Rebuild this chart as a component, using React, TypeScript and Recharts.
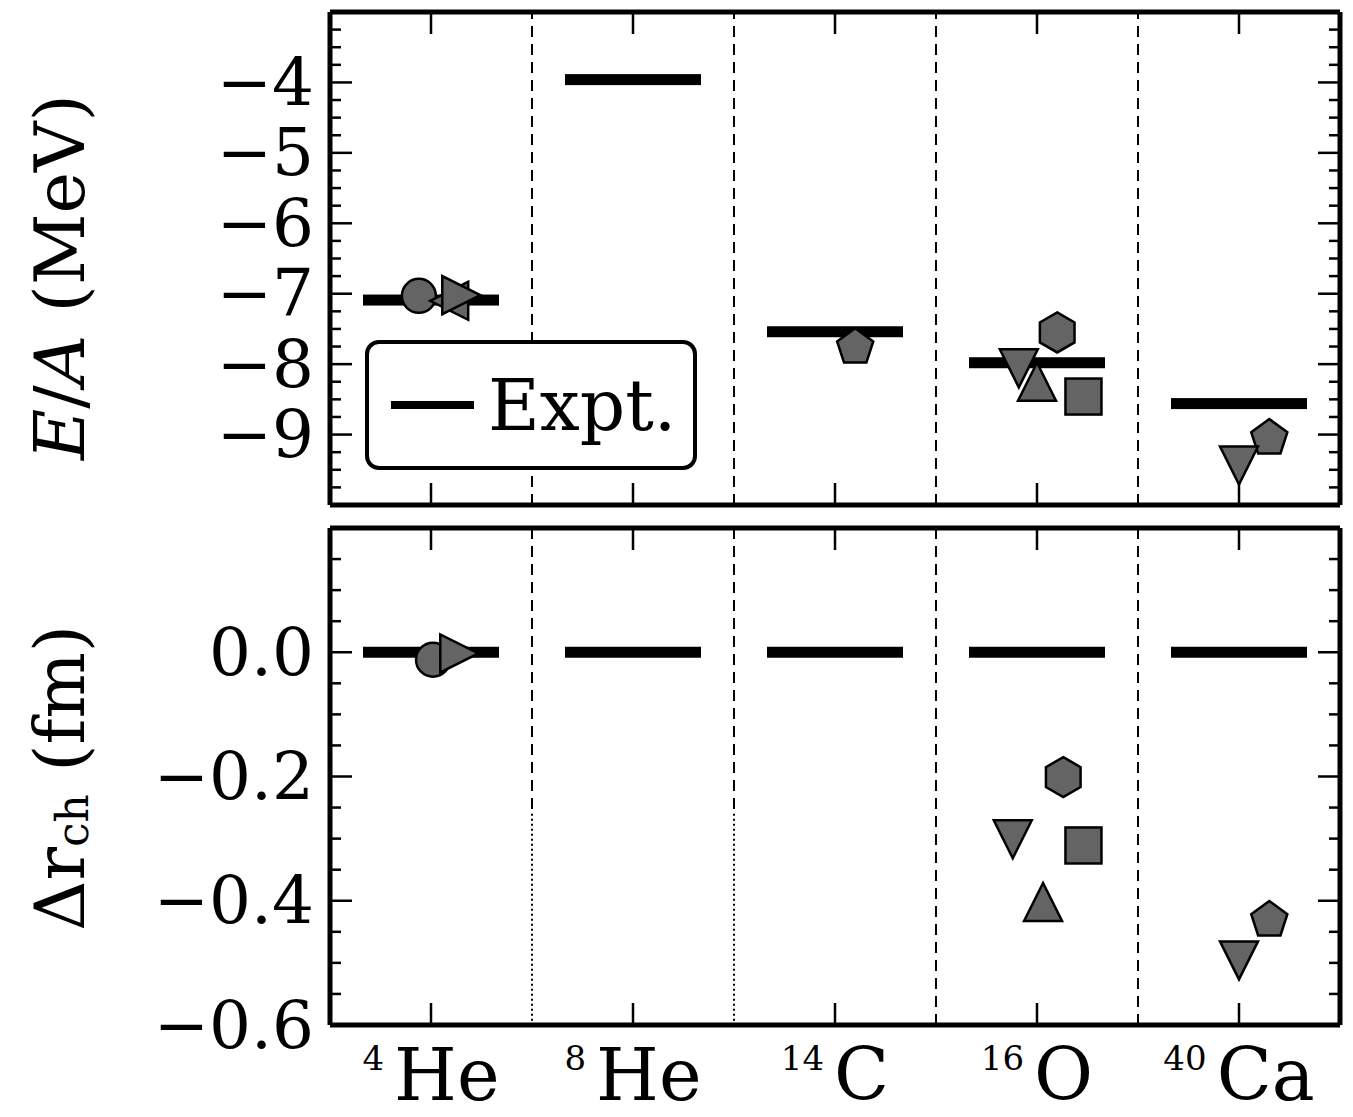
import React from 'react'
import {
  ComposedChart,
  Scatter,
  XAxis,
  YAxis,
  ReferenceLine,
  Legend,
} from 'recharts'

// nuclei along the x axis (positions 1..5)
const nucleusIndex = [1, 2, 3, 4, 5]
const nucleusMass = ['4', '8', '14', '16', '40']
const nucleusSymbol = ['He', 'He', 'C', 'O', 'Ca']

// experimental values
const exptEnergy = [-7.09, -3.96, -7.54, -7.98, -8.56]
const exptRadius = [0, 0, 0, 0, 0]

// calculated E/A (MeV), one list per marker
const energyCircle = [{ x: 0.94, y: -7.03 }]
const energyTriLeft = [{ x: 1.09, y: -7.1 }]
const energyTriRight = [{ x: 1.15, y: -7.02 }]
const energyPentagon = [{ x: 3.1, y: -7.76 }, { x: 5.15, y: -9.05 }]
const energyHexagon = [{ x: 4.1, y: -7.55 }]
const energyTriDown = [{ x: 3.91, y: -8.06 }, { x: 5.0, y: -9.44 }]
const energyTriUp = [{ x: 4.0, y: -8.25 }]
const energySquare = [{ x: 4.23, y: -8.46 }]

// calculated charge radius differences (fm)
const radiusCircle = [{ x: 1.01, y: -0.012 }]
const radiusTriRight = [{ x: 1.14, y: -0.002 }]
const radiusHexagon = [{ x: 4.13, y: -0.201 }]
const radiusTriDown = [{ x: 3.88, y: -0.301 }, { x: 5.0, y: -0.496 }]
const radiusSquare = [{ x: 4.23, y: -0.311 }]
const radiusTriUp = [{ x: 4.03, y: -0.402 }]
const radiusPentagon = [{ x: 5.15, y: -0.431 }]

// tick labels
const energyMajorTicks = [-9, -8, -7, -6, -5, -4]
const energyTickLabels = ['\u22129', '\u22128', '\u22127', '\u22126', '\u22125', '\u22124']
const radiusMajorTicks = [-0.6, -0.4, -0.2, 0]
const radiusTickLabels = ['\u22120.6', '\u22120.4', '\u22120.2', '0.0']

const range = (from: number, to: number, step: number) => {
  const out: number[] = []
  for (let v = from; v <= to + 1e-9; v += step) out.push(Math.round(v * 1000) / 1000)
  return out
}
const energyAllTicks = range(-10, -3, 0.25)
const radiusAllTicks = range(-0.6, 0.2, 0.05)

const FONT = 'DejaVu Serif'
const FILL = '#646464'
const X_DOMAIN = [0.5, 5.5]
const separators = nucleusIndex.slice(0, -1).map((v) => v + 0.5)

const exptEnergyData = nucleusIndex.map((x, i) => ({ x, y: exptEnergy[i] }))
const exptRadiusData = nucleusIndex.map((x, i) => ({ x, y: exptRadius[i] }))

const polygon = (cx: number, cy: number, r: number, n: number) => {
  const pts: string[] = []
  for (let k = 0; k < n; k++) {
    const a = -Math.PI / 2 + (2 * Math.PI * k) / n
    pts.push(`${cx + r * Math.cos(a)},${cy + r * Math.sin(a)}`)
  }
  return pts.join(' ')
}

const marker = (kind: string) => (p: any) => {
  const { cx, cy } = p
  const common = { fill: FILL, stroke: '#000', strokeWidth: 2.5, strokeLinejoin: 'miter' as const }
  const r = 19
  switch (kind) {
    case 'circle':
      return <circle cx={cx} cy={cy} r={17} {...common} />
    case 'square':
      return <rect x={cx - 18} y={cy - 18} width={36} height={36} {...common} />
    case 'triUp':
      return <polygon points={`${cx},${cy - r} ${cx - r},${cy + r} ${cx + r},${cy + r}`} {...common} />
    case 'triDown':
      return <polygon points={`${cx},${cy + r} ${cx - r},${cy - r} ${cx + r},${cy - r}`} {...common} />
    case 'triLeft':
      return <polygon points={`${cx - r},${cy} ${cx + r},${cy - r} ${cx + r},${cy + r}`} {...common} />
    case 'triRight':
      return <polygon points={`${cx + r},${cy} ${cx - r},${cy - r} ${cx - r},${cy + r}`} {...common} />
    case 'hexagon':
      return <polygon points={polygon(cx, cy, 20, 6)} {...common} />
    case 'pentagon':
      return <polygon points={polygon(cx, cy, 19, 5)} {...common} />
    default:
      return <g />
  }
}

const exptBar = (p: any) => (
  <rect x={p.cx - 68} y={p.cy - 5.5} width={136} height={11} fill="#000" />
)

const isMajor = (majors: number[], v: number) => majors.findIndex((m) => Math.abs(m - v) < 1e-6)

const makeLeftTick = (majors: number[], labels: string[]) => (p: any) => {
  const idx = isMajor(majors, p.payload.value)
  if (idx < 0) {
    return <line x1={p.x} x2={p.x + 11} y1={p.y} y2={p.y} stroke="#000" strokeWidth={2.5} />
  }
  return (
    <g>
      <line x1={p.x} x2={p.x + 22} y1={p.y} y2={p.y} stroke="#000" strokeWidth={2.5} />
      <text x={p.x - 16} y={p.y} textAnchor="end" dominantBaseline="central" fontFamily={FONT} fontSize={66} fill="#000">
        {labels[idx]}
      </text>
    </g>
  )
}

const makeRightTick = (majors: number[]) => (p: any) => {
  const len = isMajor(majors, p.payload.value) < 0 ? 11 : 22
  return <line x1={p.x} x2={p.x - len} y1={p.y} y2={p.y} stroke="#000" strokeWidth={2.5} />
}

const topTick = (p: any) => (
  <line x1={p.x} x2={p.x} y1={p.y} y2={p.y + 22} stroke="#000" strokeWidth={2.5} />
)

const bottomTick = (withLabel: boolean) => (p: any) => {
  const i = nucleusIndex.indexOf(p.payload.value)
  return (
    <g>
      <line x1={p.x} x2={p.x} y1={p.y} y2={p.y - 22} stroke="#000" strokeWidth={2.5} />
      {withLabel && i >= 0 && (
        <text x={p.x} y={p.y + 75} textAnchor="middle" fontFamily={FONT} fill="#000">
          <tspan fontSize={34} dy={-30}>{nucleusMass[i]}</tspan>
          <tspan fontSize={72} dy={30} dx={10}>{nucleusSymbol[i]}</tspan>
        </text>
      )}
    </g>
  )
}

const frame = { stroke: '#000', strokeWidth: 5 }

const LegendBox = () => (
  <div
    style={{
      width: 332,
      height: 130,
      boxSizing: 'border-box',
      border: '4px solid #000',
      borderRadius: 14,
      background: '#fff',
      display: 'flex',
      alignItems: 'center',
      paddingLeft: 22,
    }}
  >
    <div style={{ width: 83, height: 8, background: '#000' }} />
    <span style={{ fontFamily: FONT, fontSize: 71, marginLeft: 14, color: '#000', lineHeight: 1 }}>Expt.</span>
  </div>
)

export default function App() {
  return (
    <div style={{ position: 'absolute', left: 0, top: 0, width: 1353, height: 1117, background: '#fff' }}>
      <div style={{ position: 'absolute', left: 0, top: 0 }}>
        <ComposedChart width={1353} height={515} margin={{ top: 11, right: 12, bottom: 9, left: 0 }}>
          <XAxis dataKey="x" type="number" domain={X_DOMAIN} allowDataOverflow ticks={nucleusIndex} interval={0}
            height={1} tickSize={0} tickMargin={0} tickLine={false} axisLine={frame} tick={bottomTick(false)} />
          <XAxis xAxisId="top" dataKey="x" orientation="top" type="number" domain={X_DOMAIN} allowDataOverflow
            ticks={nucleusIndex} interval={0} height={1} tickSize={0} tickMargin={0} tickLine={false}
            axisLine={frame} tick={topTick} />
          <YAxis dataKey="y" type="number" domain={[-10, -3]} allowDataOverflow ticks={energyAllTicks} interval={0}
            width={330} tickSize={0} tickMargin={0} tickLine={false} axisLine={frame}
            tick={makeLeftTick(energyMajorTicks, energyTickLabels)}
            label={() => (
              <text x={60} y={277} transform="rotate(-90 60 277)" textAnchor="middle" dominantBaseline="central"
                fontFamily={FONT} fontSize={70} fill="#000">
                <tspan fontStyle="italic">E</tspan>/<tspan fontStyle="italic">A</tspan> (MeV)
              </text>
            )} />
          <YAxis yAxisId="right" dataKey="y" orientation="right" type="number" domain={[-10, -3]} allowDataOverflow
            ticks={energyAllTicks} interval={0} width={1} tickSize={0} tickMargin={0} tickLine={false}
            axisLine={frame} tick={makeRightTick(energyMajorTicks)} />
          {separators.map((s) => (
            <ReferenceLine key={s} x={s} stroke="#000" strokeWidth={2} strokeDasharray="11 7" />
          ))}
          <Scatter data={exptEnergyData} dataKey="y" xAxisId="top" yAxisId="right" shape={exptBar}
            isAnimationActive={false} />
          <Scatter data={energyCircle} dataKey="y" shape={marker('circle')} isAnimationActive={false} />
          <Scatter data={energyTriLeft} dataKey="y" shape={marker('triLeft')} isAnimationActive={false} />
          <Scatter data={energyTriRight} dataKey="y" shape={marker('triRight')} isAnimationActive={false} />
          <Scatter data={energyPentagon} dataKey="y" shape={marker('pentagon')} isAnimationActive={false} />
          <Scatter data={energyTriDown} dataKey="y" shape={marker('triDown')} isAnimationActive={false} />
          <Scatter data={energyTriUp} dataKey="y" shape={marker('triUp')} isAnimationActive={false} />
          <Scatter data={energyHexagon} dataKey="y" shape={marker('hexagon')} isAnimationActive={false} />
          <Scatter data={energySquare} dataKey="y" shape={marker('square')} isAnimationActive={false} />
          <Legend layout="horizontal" verticalAlign="middle" align="center" content={LegendBox}
            wrapperStyle={{ left: 365, top: 340, width: 332, height: 130 }} />
        </ComposedChart>
      </div>
      <div style={{ position: 'absolute', left: 0, top: 518 }}>
        <ComposedChart width={1353} height={599} margin={{ top: 9, right: 12, bottom: 0, left: 0 }}>
          <XAxis dataKey="x" type="number" domain={X_DOMAIN} allowDataOverflow ticks={nucleusIndex} interval={0}
            height={92} tickSize={0} tickMargin={0} tickLine={false} axisLine={frame} tick={bottomTick(true)} />
          <XAxis xAxisId="top" dataKey="x" orientation="top" type="number" domain={X_DOMAIN} allowDataOverflow
            ticks={nucleusIndex} interval={0} height={1} tickSize={0} tickMargin={0} tickLine={false}
            axisLine={frame} tick={topTick} />
          <YAxis dataKey="y" type="number" domain={[-0.6, 0.2]} allowDataOverflow ticks={radiusAllTicks} interval={0}
            width={330} tickSize={0} tickMargin={0} tickLine={false} axisLine={frame}
            tick={makeLeftTick(radiusMajorTicks, radiusTickLabels)}
            label={() => (
              <text x={60} y={260} transform="rotate(-90 60 260)" textAnchor="middle" dominantBaseline="central"
                fontFamily={FONT} fontSize={70} fill="#000">
                {'\u0394r'}<tspan fontSize={44} dy={12}>ch</tspan><tspan dy={-12}>{'  (fm)'}</tspan>
              </text>
            )} />
          <YAxis yAxisId="right" dataKey="y" orientation="right" type="number" domain={[-0.6, 0.2]} allowDataOverflow
            ticks={radiusAllTicks} interval={0} width={1} tickSize={0} tickMargin={0} tickLine={false}
            axisLine={frame} tick={makeRightTick(radiusMajorTicks)} />
          {separators.slice(2).map((s) => (
            <ReferenceLine key={s} x={s} stroke="#000" strokeWidth={2} strokeDasharray="11 7" />
          ))}
          {separators.slice(0, 2).map((s) => (
            <ReferenceLine key={`a${s}`} segment={[{ x: s, y: 0.2 }, { x: s, y: -0.26 }]}
              stroke="#000" strokeWidth={2} strokeDasharray="11 7" />
          ))}
          {separators.slice(0, 2).map((s) => (
            <ReferenceLine key={`b${s}`} segment={[{ x: s, y: -0.26 }, { x: s, y: -0.6 }]}
              stroke="#000" strokeWidth={2} strokeDasharray="2 3" />
          ))}
          <Scatter data={exptRadiusData} dataKey="y" xAxisId="top" yAxisId="right" shape={exptBar}
            isAnimationActive={false} />
          <Scatter data={radiusCircle} dataKey="y" shape={marker('circle')} isAnimationActive={false} />
          <Scatter data={radiusTriRight} dataKey="y" shape={marker('triRight')} isAnimationActive={false} />
          <Scatter data={radiusHexagon} dataKey="y" shape={marker('hexagon')} isAnimationActive={false} />
          <Scatter data={radiusTriDown} dataKey="y" shape={marker('triDown')} isAnimationActive={false} />
          <Scatter data={radiusSquare} dataKey="y" shape={marker('square')} isAnimationActive={false} />
          <Scatter data={radiusTriUp} dataKey="y" shape={marker('triUp')} isAnimationActive={false} />
          <Scatter data={radiusPentagon} dataKey="y" shape={marker('pentagon')} isAnimationActive={false} />
        </ComposedChart>
      </div>
    </div>
  )
}
